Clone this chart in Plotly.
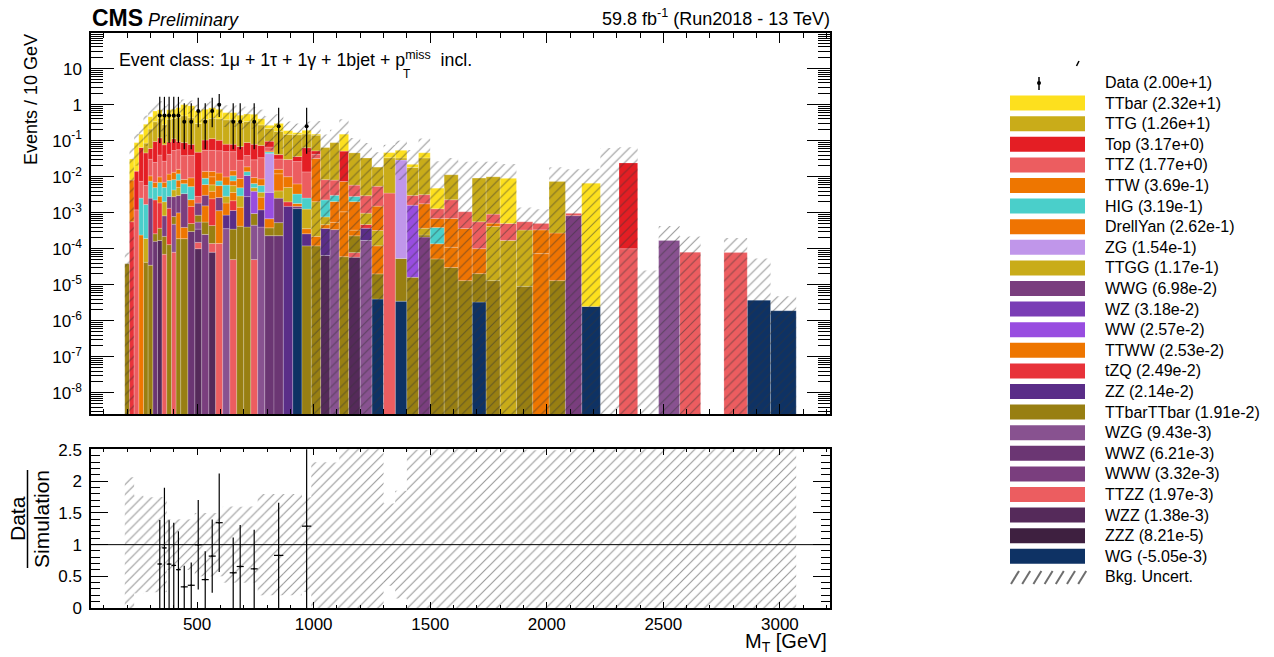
import numpy as np
import plotly.graph_objects as go

# ---------------- binning (GeV) ----------------
bin_edges = [190, 210, 230, 250, 270, 290, 310, 330, 350, 370, 390, 410, 430,
             460, 490, 520, 550, 580, 610, 640, 670, 700, 730, 760, 790,
             830, 870, 910, 950, 990, 1030, 1070, 1110, 1150,
             1200, 1250, 1300, 1350, 1400, 1450, 1500,
             1560, 1620, 1680, 1740, 1800,
             1870, 1940, 2010, 2080, 2150,
             2230, 2310, 2390, 2480, 2570, 2660, 2760, 2860, 2960, 3070]

# ---------------- background yields per bin (events / 10 GeV) ----------------
WG = [0, 0, 0, 0, 0, 0, 0, 0, 0, 0,
      0, 0, 0, 0, 0, 0, 0, 0, 0, 0,
      0, 0, 0, 0, 0, 0, 0, 1.3e-3, 0, 0,
      0, 0, 0, 0, 0, 4e-6, 0, 3.5e-6, 0, 0,
      0, 0, 0, 3.3e-6, 0, 0, 0, 0, 0, 0,
      2.5e-6, 0, 0, 0, 0, 0, 0, 0, 3.7e-6, 1.9e-6]
ZZZ = [0] * 60
WZZ = [0, 0, 0, 0, 0, 0, 0, 1.7e-4, 0, 0,
       0, 0, 0, 0, 1e-4, 0, 8e-5, 0, 0, 0,
       0, 0, 0, 0, 0, 0, 0, 0, 0, 0,
       6.5e-5, 0, 0, 5.8e-5, 0, 0, 0, 0, 0, 0,
       0, 0, 0, 0, 0, 0, 0, 0, 0, 0,
       0, 0, 0, 0, 0, 0, 0, 0, 0, 0]
TTZZ = [0, 0, 0, 0, 0, 0, 0, 0, 7e-5, 0,
        8e-5, 0, 0, 0, 5e-5, 0, 6e-5, 1.4e-4, 0, 5e-5,
        0, 0, 5e-5, 0, 0, 0, 0, 0, 0, 0,
        0, 0, 0, 2e-5, 0, 0, 0, 0, 0, 0,
        0, 0, 0, 0, 0, 0, 0, 0, 0, 0,
        0, 0, 0, 0, 0, 8e-5, 0, 7.8e-5, 0, 0]
WWW = [0, 0, 0, 0, 0, 0, 0, 0, 0, 0,
       0, 0, 0, 0, 0, 2.5e-4, 0, 0, 0, 0,
       0, 0, 0, 0, 0, 0, 0, 2e-4, 0, 0,
       0, 0, 0, 0, 0, 0, 0, 0, 0, 2.1e-4,
       0, 0, 0, 0, 0, 0, 0, 0, 0, 0,
       0, 0, 0, 0, 0, 0, 0, 0, 0, 0]
WWZ = [0, 0, 0, 0, 0, 0, 1.6e-4, 0, 0, 0,
       0, 0, 0, 3e-4, 2e-4, 0, 0, 0, 0, 0,
       0, 0, 0, 0, 2.3e-4, 2.3e-4, 0, 0, 0, 0,
       0, 0, 0, 0, 0, 0, 0, 0, 0, 0,
       0, 0, 0, 0, 0, 0, 0, 0, 0, 0,
       0, 0, 0, 0, 0, 0, 0, 0, 0, 0]
WZG = [0, 0, 0, 0, 0, 0, 0, 0, 0, 0,
       4e-4, 0, 0, 0, 2e-4, 0, 0, 0, 3.6e-4, 0,
       0, 0, 4e-4, 4e-4, 0, 0, 0, 0, 0, 0,
       0, 3.4e-4, 0, 0, 1.7e-4, 0, 0, 0, 0, 0,
       0, 0, 0, 0, 0, 0, 0, 0, 0, 0,
       0, 0, 0, 0, 1.7e-4, 0, 0, 0, 0, 0]
TTbarTTbar = [3.8e-5, 0, 0, 0, 4.2e-5, 3.5e-5, 1e-4, 2e-4, 1.5e-4, 1.3e-4,
              3e-4, 1.9e-4, 1.9e-4, 2e-4, 3e-4, 3e-4, 3e-4, 0, 0, 3e-4,
              4.2e-4, 4e-4, 5e-4, 0, 1.5e-4, 3e-4, 0, 0, 1.2e-4, 1.2e-4,
              0, 0, 6e-5, 1.5e-4, 0, 1.6e-5, 0, 5e-5, 1.6e-5, 3e-5,
              5.2e-5, 3e-5, 1.3e-5, 1.7e-5, 1.3e-5, 0, 9e-6, 0, 1.3e-5, 0,
              0, 0, 0, 0, 0, 0, 0, 0, 0, 0]
ZZ = [0, 0, 0, 0, 0, 0, 0, 0, 0, 0,
      0, 0, 0, 0, 0, 0, 0, 0, 5e-4, 8e-4,
      0, 2.4e-3, 0, 8e-4, 0, 0, 1.5e-3, 0, 1.4e-4, 0,
      3e-4, 0, 0, 0, 2e-4, 0, 0, 0, 0, 0,
      0, 0, 0, 0, 0, 0, 0, 0, 0, 0,
      0, 0, 0, 0, 0, 0, 0, 0, 0, 0]
tZQ = [0, 5.6e-4, 0, 0, 0, 0, 2e-3, 1.5e-3, 0, 1.2e-3,
       0, 0, 0, 1e-3, 0, 0, 2e-3, 0, 0, 1e-3,
       0, 0, 0, 0, 0, 0, 5e-4, 0, 0, 0,
       0, 0, 0, 0, 1e-4, 0, 0, 0, 0, 0,
       0, 0, 0, 0, 0, 0, 0, 0, 0, 0,
       0, 0, 0, 0, 0, 0, 0, 0, 0, 0]
TTWW = [0, 0, 0, 2.4e-4, 0, 0, 0, 1e-3, 0, 0,
        0, 8e-4, 2e-4, 8e-4, 0, 1e-3, 1.5e-3, 1e-3, 1e-3, 1.5e-3,
        1e-3, 0, 0, 1.5e-3, 3e-4, 0, 0, 3e-4, 1e-4, 1e-4,
        1e-4, 2e-4, 1e-3, 1e-4, 0, 1e-4, 0, 0, 0, 0,
        8.5e-5, 8e-5, 0, 0, 0, 0, 0, 7.3e-5, 0, 0,
        0, 0, 0, 0, 0, 0, 0, 0, 0, 0]
WW = [0, 0, 0, 0, 0, 0, 0, 0, 0, 0,
      0, 0, 0, 0, 0, 0, 0, 0, 0, 0,
      0, 0, 3e-3, 0, 3e-3, 0, 0, 0, 0, 0,
      0, 0, 0, 0, 0, 0, 0, 0, 1.6e-3, 0,
      0, 0, 0, 0, 0, 0, 0, 0, 0, 0,
      0, 0, 0, 0, 0, 0, 0, 0, 0, 0]
WZ = [0, 0, 0, 0, 0, 0, 0, 0, 0, 0,
      0, 0, 0, 0, 0, 0, 0, 0, 0, 0,
      0, 8e-3, 0, 0, 0, 0, 0, 0, 0, 0,
      0, 0, 0, 0, 0, 0, 0, 0, 0, 0,
      0, 0, 0, 0, 0, 0, 0, 0, 0, 0,
      0, 0, 0, 0, 0, 0, 0, 0, 0, 0]
WWG = [0, 0, 0, 0, 0, 2.5e-3, 0, 0, 6e-4, 1.5e-3,
       2e-3, 2e-3, 3e-3, 0, 1e-3, 1.5e-3, 0, 1.5e-3, 0, 0,
       0, 0, 0, 0, 0, 2e-3, 0, 0, 0, 0,
       0, 0, 0, 0, 0, 0, 0, 0, 0, 0,
       0, 0, 0, 0, 0, 0, 0, 0, 0, 8.3e-4,
       0, 0, 0, 0, 0, 0, 0, 0, 0, 0]
TTGG = [0, 0, 0, 0, 1.5e-4, 0, 0, 0, 1.2e-3, 0,
        1.5e-3, 2e-3, 0, 0, 0, 0, 2e-3, 0, 1e-3, 2e-3,
        1.5e-3, 0, 1e-3, 1e-3, 0, 1.5e-3, 3e-3, 0, 9e-4, 1.8e-3,
        3e-4, 0, 0, 0, 5e-4, 2e-4, 0, 0, 0, 1.3e-4,
        0, 0, 0, 0, 4e-4, 1.7e-4, 3.2e-4, 0, 0, 0,
        0, 0, 0, 0, 0, 0, 0, 0, 0, 0]
ZG = [0, 0, 0, 0, 0, 0, 0, 0, 0, 0,
      0, 0, 0, 0, 0, 0, 0, 0, 0, 0,
      0, 0, 0, 0, 0.04, 0, 0, 0, 0, 0,
      0, 0, 0, 0, 0, 0, 0, 0.029, 0, 0,
      0, 0, 0, 0, 0, 0, 0, 0, 0, 0,
      0, 0, 0, 0, 0, 0, 0, 0, 0, 0]
DrellYan = [0, 0, 0, 0, 0, 0, 0, 0, 0, 0,
            0, 3e-3, 0, 0, 0, 3e-3, 4e-3, 3e-3, 0, 2e-3,
            0, 0, 0, 0, 0, 8e-3, 0, 0, 0, 0.03,
            0, 1.5e-3, 0, 1.7e-3, 0, 1.2e-3, 0, 0, 0, 1.4e-3,
            0, 5.8e-4, 3.5e-4, 8e-5, 0, 0, 0, 0, 2.6e-4, 0,
            0, 0, 0, 0, 0, 0, 0, 0, 0, 0]
HIG = [0, 0, 0, 2.3e-3, 1.5e-3, 5e-3, 2.7e-3, 4e-3, 3e-3, 5e-3,
       4e-3, 4e-3, 3e-3, 3e-3, 0, 3e-3, 0, 2e-3, 3e-3, 3e-3,
       2e-3, 3e-3, 1.5e-3, 2e-3, 5e-3, 0, 0, 1.5e-3, 1.3e-3, 0,
       1.5e-3, 1e-3, 0, 8e-4, 0, 0, 0, 0, 0, 0,
       2.5e-4, 0, 0, 0, 0, 0, 0, 0, 0, 0,
       0, 0, 0, 0, 0, 0, 0, 0, 0, 0]
TTW = [0, 7.5e-3, 0, 0, 0, 3e-3, 2e-3, 3e-3, 2e-3, 4e-3,
       5e-3, 4e-3, 2e-3, 4e-3, 0, 5e-3, 4e-3, 5e-3, 4e-3, 4e-3,
       4e-3, 5e-3, 3e-3, 3e-3, 3e-3, 4e-3, 5e-3, 3e-3, 0, 0,
       0, 0, 6.3e-3, 0, 0, 0, 0, 0, 0, 0,
       3e-4, 0, 0, 0, 1e-4, 0, 0, 2.6e-4, 0, 0,
       0, 0, 0, 0, 0, 0, 0, 0, 0, 0]
TTZ = [0, 0, 1.2e-3, 4.9e-3, 4e-3, 0.02, 0.018, 0.03, 0.02, 0.03,
       0.04, 0.04, 0.03, 0.03, 1e-3, 0.04, 0.04, 0.04, 0.04, 0.035,
       0.02, 0.02, 0.02, 0.025, 0.015, 0.015, 0.02, 0.02, 0.011, 0.01,
       6e-3, 5e-3, 0, 3e-3, 2e-3, 3.9e-3, 3.5e-3, 0, 1.4e-3, 1.4e-3,
       6e-4, 1.6e-3, 7e-4, 4.6e-4, 4e-4, 3.3e-4, 2.3e-4, 1.7e-4, 0, 1.3e-4,
       0, 0, 1e-4, 0, 0, 0, 0, 0, 0, 0]
Top = [0, 0, 0.013, 0.057, 0.04, 0.03, 0.07, 0.08, 0.05, 0.05,
       0.06, 0.04, 0.05, 0.04, 0.045, 0.05, 0.06, 0.05, 0.03, 0.03,
       0.04, 0.05, 0.05, 0.04, 0.03, 0.01, 0, 0.01, 0.05, 0.01,
       0, 0, 0.044, 0, 0, 0, 0, 0, 0, 0,
       0, 0, 0, 0, 0, 0, 0, 0, 0, 0,
       0, 0, 0.024, 0, 0, 0, 0, 0, 0, 0]
TTG = [0, 0, 0, 0, 0.04, 0.15, 0.24, 0.3, 0.2, 0.3,
       0.3, 0.35, 0.4, 0.35, 0.25, 0.28, 0.3, 0.3, 0.3, 0.3,
       0.25, 0.25, 0.25, 0.2, 0.12, 0.14, 0.12, 0.11, 0.09, 0.09,
       0.056, 0.08, 0, 0.04, 0.03, 0.013, 0.03, 0.004, 0.015, 0.03,
       0, 9e-3, 0, 8.6e-3, 9e-3, 0, 0, 0, 7.1e-3, 0,
       0, 0, 0, 0, 0, 0, 0, 0, 0, 0]
TTbar = [0, 0.023, 0.074, 0.086, 0.2, 0.25, 0.33, 0.3, 0.25, 0.33,
         0.33, 0.38, 0.51, 0.5, 0.37, 0.36, 0.4, 0.34, 0.22, 0.22,
         0.19, 0.21, 0.21, 0.13, 0.05, 0.12, 0.04, 0.02, 0.04, 0.01,
         0, 0, 0.1, 0, 0, 0, 0.013, 0.021, 0.004, 0.013,
         3.5e-3, 0, 0, 0, 0, 8.5e-3, 0, 0, 0, 0,
         6.6e-3, 0, 0, 0, 0, 0, 0, 0, 0, 0]

# absolute background uncertainty per bin (events / 10 GeV)
bkg_unc = [4e-5, 0.033, 0.068, 0.116, 0.214, 0.345, 0.5, 0.54, 0.395, 0.29,
           0.297, 0.33, 0.4, 0.37, 0.334, 0.372, 0.407, 0.371, 0.36, 0.36,
           0.305, 0.33, 0.324, 0.323, 0.213, 0.241, 0.152, 0.133, 0.145, 0.198,
           0.0836, 0.114, 0.242, 0.0733, 0.0528, 0.0294, 0.0302, 0.046, 0.033, 0.069,
           0.022, 0.0215, 0.025, 0.0174, 0.0159, 0.0135, 8.4e-4, 7.5e-4, 0.011, 0.015,
           0.0099, 0.063, 0.042, 2.5e-5, 2.6e-4, 1.4e-4, 0, 1.2e-4, 5e-5, 2.9e-6]

# observed events per bin
data_counts = [0, 0, 0, 0, 0, 0, 0, 1, 1, 1,
               1, 1, 1, 1, 2, 1, 2, 3, 0, 1,
               1, 0, 1, 0, 0, 1, 0, 0, 1, 0,
               0, 0, 0, 0, 0, 0, 0, 0, 0, 0,
               0, 0, 0, 0, 0, 0, 0, 0, 0, 0,
               0, 0, 0, 0, 0, 0, 0, 0, 0, 0]

# 68% CL Poisson (Garwood) interval for small counts
poisson_interval = {1: (0.173, 3.300), 2: (0.708, 4.638), 3: (1.367, 5.918)}

# legend entries (top to bottom) with integrated yields
legend_names = ["TTbar", "TTG", "Top", "TTZ", "TTW", "HIG", "DrellYan", "ZG", "TTGG",
                "WWG", "WZ", "WW", "TTWW", "tZQ", "ZZ", "TTbarTTbar", "WZG", "WWZ",
                "WWW", "TTZZ", "WZZ", "ZZZ", "WG"]
legend_yields = [2.32e1, 1.26e1, 3.17e0, 1.77e0, 3.69e-1, 3.19e-1, 2.62e-1, 1.54e-1, 1.17e-1,
                 6.98e-2, 3.18e-2, 2.57e-2, 2.53e-2, 2.49e-2, 2.14e-2, 1.91e-2, 9.43e-3, 6.21e-3,
                 3.32e-3, 1.97e-3, 1.38e-3, 8.21e-5, -5.05e-3]
data_yield = 2.00e1

colors = {
    "TTbar": "#FDE01E", "TTG": "#C9AC19", "Top": "#E41E24", "TTZ": "#EC5D60",
    "TTW": "#EE7600", "HIG": "#4ACFCA", "DrellYan": "#EF7402", "ZG": "#C096EA",
    "TTGG": "#C9AC19", "WWG": "#7A3E7E", "WZ": "#7A3DB5", "WW": "#984DE0",
    "TTWW": "#EE7600", "tZQ": "#E8333A", "ZZ": "#5A2D88", "TTbarTTbar": "#987F12",
    "WZG": "#885290", "WWZ": "#6B3673", "WWW": "#7A3E7E", "TTZZ": "#EC5D60",
    "WZZ": "#552A5A", "ZZZ": "#3E2040", "WG": "#0E3264",
}

# stacking order, bottom to top
stack = [("WG", WG), ("ZZZ", ZZZ), ("WZZ", WZZ), ("TTZZ", TTZZ), ("WWW", WWW),
         ("WWZ", WWZ), ("WZG", WZG), ("TTbarTTbar", TTbarTTbar), ("ZZ", ZZ),
         ("tZQ", tZQ), ("TTWW", TTWW), ("WW", WW), ("WZ", WZ), ("WWG", WWG),
         ("TTGG", TTGG), ("ZG", ZG), ("DrellYan", DrellYan), ("HIG", HIG),
         ("TTW", TTW), ("TTZ", TTZ), ("Top", Top), ("TTG", TTG), ("TTbar", TTbar)]

FONT = "Liberation Sans, Arial, Helvetica, sans-serif"
X_RANGE = [45, 3215]

# ---------------- geometry helpers ----------------
W, H = 1274, 657
ML, MR, MT, MB = 91, 444, 33, 49
PW, PH = W - ML - MR, H - MT - MB


def fx(p):
    return (p - ML) / PW


def fy(p):
    return 1 - (p - MT) / PH


edges = np.array(bin_edges, float)
centers = 0.5 * (edges[1:] + edges[:-1])
widths = np.diff(edges)
nb = len(centers)
FLOOR = 1e-12

fig = go.Figure()

# ---------------- stacked backgrounds ----------------
cum = np.zeros(nb)
for name, vals in stack:
    v = np.array(vals, float)
    base = np.where(cum > 0, cum, FLOOR)
    yv = [val if val > 0 else None for val in v]
    fig.add_trace(go.Bar(
        x=centers, y=yv, base=base, width=widths,
        marker=dict(color=colors[name], line=dict(width=0.6, color="rgba(255,255,255,0.35)")),
        xaxis="x", yaxis="y", hoverinfo="skip", showlegend=False))
    cum = cum + v
total = cum

# ---------------- uncertainty band (main) ----------------
unc = np.array(bkg_unc, float)
band_hi = total + unc
band_lo = np.where(total - unc > 0, total - unc, FLOOR)
band_h = [h - l if u > 0 else None for h, l, u in zip(band_hi, band_lo, unc)]
hatch = dict(shape="/", fgcolor="#333333", bgcolor="rgba(0,0,0,0)", size=7,
             solidity=0.16, fillmode="overlay")
fig.add_trace(go.Bar(
    x=centers, y=band_h, base=band_lo, width=widths,
    marker=dict(color="rgba(0,0,0,0)", line=dict(width=0), pattern=hatch),
    xaxis="x", yaxis="y", hoverinfo="skip", showlegend=False))

# ---------------- data (main) ----------------
counts = np.array(data_counts)
sel = counts > 0
d_val = counts * 10.0 / widths
d_lo = np.array([d_val[i] * (1 - poisson_interval[c][0] / c) if c > 0 else 0 for i, c in enumerate(counts)])
d_hi = np.array([d_val[i] * (poisson_interval[c][1] / c - 1) if c > 0 else 0 for i, c in enumerate(counts)])
fig.add_trace(go.Scatter(
    x=centers[sel], y=d_val[sel], mode="markers",
    marker=dict(color="black", size=4),
    error_y=dict(type="data", array=d_hi[sel], arrayminus=d_lo[sel], width=0,
                 thickness=1.2, color="black"),
    xaxis="x", yaxis="y", hoverinfo="skip", showlegend=False))

# ---------------- ratio panel ----------------
safe_tot = np.where(total > 0, total, 1.0)
rel = unc / safe_tot
r_lo = np.where(total > 0, np.clip(1 - rel, 0, None), 0.0)
r_hi = np.where(total > 0, np.clip(1 + rel, None, 3.0), 3.0)
fig.add_trace(go.Bar(
    x=centers, y=r_hi - r_lo, base=r_lo, width=widths,
    marker=dict(color="rgba(0,0,0,0)", line=dict(width=0), pattern=hatch),
    xaxis="x2", yaxis="y2", hoverinfo="skip", showlegend=False))

ratio = d_val / safe_tot
ratio_err = np.where(counts > 0, ratio / np.sqrt(np.maximum(counts, 1)), 0)
fig.add_trace(go.Scatter(
    x=centers[sel], y=ratio[sel], mode="markers",
    marker=dict(color="black", size=2),
    error_x=dict(type="data", array=widths[sel] / 2, width=0, thickness=1.2, color="black"),
    error_y=dict(type="data", array=ratio_err[sel], width=0, thickness=1.2, color="black"),
    xaxis="x2", yaxis="y2", hoverinfo="skip", showlegend=False))

# ---------------- axes ----------------
main_bottom = fy(414)
ratio_top = fy(449.3)
tick_font = dict(family=FONT, size=17, color="black")

common_x = dict(range=X_RANGE, showgrid=False, zeroline=False, showline=True,
                linecolor="black", linewidth=1.5, mirror="allticks", ticks="inside",
                tickcolor="black", tickwidth=1, tickmode="array",
                tickvals=[500, 1000, 1500, 2000, 2500, 3000], tickfont=tick_font)

y_exps = list(range(-8, 2))
y_vals = [10.0 ** e for e in y_exps]
y_text = ["1" if e == 0 else "10" if e == 1 else "10<sup>-%d</sup>" % (-e) for e in y_exps]

fig.update_layout(
    width=W, height=H,
    margin=dict(l=ML, r=MR, t=MT, b=MB, pad=0),
    paper_bgcolor="white", plot_bgcolor="white",
    barmode="overlay", showlegend=False,
    font=dict(family=FONT, color="black"),
    xaxis=dict(common_x, domain=[0, 1], anchor="y", showticklabels=False, ticklen=10,
               minor=dict(ticks="inside", dtick=100, tick0=0, ticklen=5,
                          tickcolor="black", tickwidth=1, showgrid=False)),
    yaxis=dict(domain=[main_bottom, 1], anchor="x", type="log", range=[-8.59, 1.99],
               showgrid=False, zeroline=False, showline=True, linecolor="black",
               linewidth=1.5, mirror="allticks", ticks="inside", ticklen=23,
               tickcolor="black", tickwidth=1, tickmode="array", tickvals=y_vals,
               ticktext=y_text, tickfont=tick_font, ticklabelstandoff=4,
               minor=dict(ticks="inside", dtick="D1", ticklen=12, tickcolor="black",
                          tickwidth=1, showgrid=False)),
    xaxis2=dict(common_x, domain=[0, 1], anchor="y2", showticklabels=True, ticklen=6,
                minor=dict(ticks="inside", dtick=100, tick0=0, ticklen=3,
                           tickcolor="black", tickwidth=1, showgrid=False)),
    yaxis2=dict(domain=[0, ratio_top], anchor="x2", range=[0, 2.505],
                showgrid=False, zeroline=False, showline=True, linecolor="black",
                linewidth=1.5, mirror="allticks", ticks="inside", ticklen=17,
                tickcolor="black", tickwidth=1, tickmode="array",
                tickvals=[0, 0.5, 1, 1.5, 2, 2.5],
                ticktext=["0", "0.5", "1", "1.5", "2", "2.5"], tickfont=tick_font,
                ticklabelstandoff=4,
                minor=dict(ticks="inside", dtick=0.1, tick0=0, ticklen=9,
                           tickcolor="black", tickwidth=1, showgrid=False)),
)

shapes = []
annotations = []

# unity line in the ratio panel
shapes.append(dict(type="line", xref="x2", yref="y2", x0=X_RANGE[0], x1=X_RANGE[1],
                   y0=1, y1=1, line=dict(color="black", width=1)))


def label(text, x, y, size, xanchor="left", yanchor="middle", angle=0):
    annotations.append(dict(text=text, x=fx(x), y=fy(y), xref="paper", yref="paper",
                            showarrow=False, xanchor=xanchor, yanchor=yanchor,
                            textangle=angle, borderpad=0,
                            font=dict(family=FONT, size=size, color="black")))


# header
label("<b>CMS</b>", 91, 18, 23)
label("<i>Preliminary</i>", 147, 20, 18)
label("59.8 fb<sup>-1</sup> (Run2018 - 13 TeV)", 831, 18, 18, xanchor="right")

# event class
label("Event class: 1\u03bc + 1\u03c4 + 1\u03b3 + 1bjet + p<sup>miss</sup>  incl.", 118, 59, 17.8)
label("T", 407, 74, 12, xanchor="center")

# axis titles
label("Events / 10 GeV", 31, 100, 18, xanchor="center", angle=-90)
label("Data", 17, 519, 21, xanchor="center", angle=-90)
label("Simulation", 41, 519, 21, xanchor="center", angle=-90)
shapes.append(dict(type="line", xref="paper", yref="paper", x0=fx(27.5), x1=fx(27.5),
                   y0=fy(470), y1=fy(568), line=dict(color="black", width=1.5)))
label("M<sub>T</sub> [GeV]", 828, 642, 20, xanchor="right")


# ---------------- legend ----------------
def fmt(v):
    m, e = ("%.2e" % v).split("e")
    return "%se%+d" % (m, int(e))


row0, row_step = 82.5, 20.6
sw_x0, sw_x1, txt_x = 1010, 1085, 1104

# data entry
shapes.append(dict(type="line", xref="paper", yref="paper", x0=fx(1039), x1=fx(1039),
                   y0=fy(77), y1=fy(90), line=dict(color="black", width=1.5)))
shapes.append(dict(type="circle", xref="paper", yref="paper", x0=fx(1037), x1=fx(1041),
                   y0=fy(81), y1=fy(85), fillcolor="black", line=dict(color="black", width=0)))
shapes.append(dict(type="line", xref="paper", yref="paper", x0=fx(1076.5), x1=fx(1079),
                   y0=fy(66), y1=fy(61), line=dict(color="black", width=1.5)))
label("Data (%s)" % fmt(data_yield), txt_x, row0, 16)

for i, (name, yld) in enumerate(zip(legend_names, legend_yields)):
    cy = row0 + row_step * (i + 1)
    shapes.append(dict(type="rect", xref="paper", yref="paper",
                       x0=fx(sw_x0), x1=fx(sw_x1), y0=fy(cy + 7.5), y1=fy(cy - 7.5),
                       fillcolor=colors[name], line=dict(width=0)))
    label("%s (%s)" % (name, fmt(yld)), txt_x, cy, 16)

cy = row0 + row_step * (len(legend_names) + 1)
for k in range(7):
    xs = sw_x0 + 1 + k * 11.2
    shapes.append(dict(type="line", xref="paper", yref="paper",
                       x0=fx(xs), x1=fx(xs + 8), y0=fy(cy + 7), y1=fy(cy - 6),
                       line=dict(color="#6e6e6e", width=2)))
label("Bkg. Uncert.", txt_x, cy, 16)

fig.update_layout(shapes=shapes, annotations=annotations)
fig.write_html("out.html")
